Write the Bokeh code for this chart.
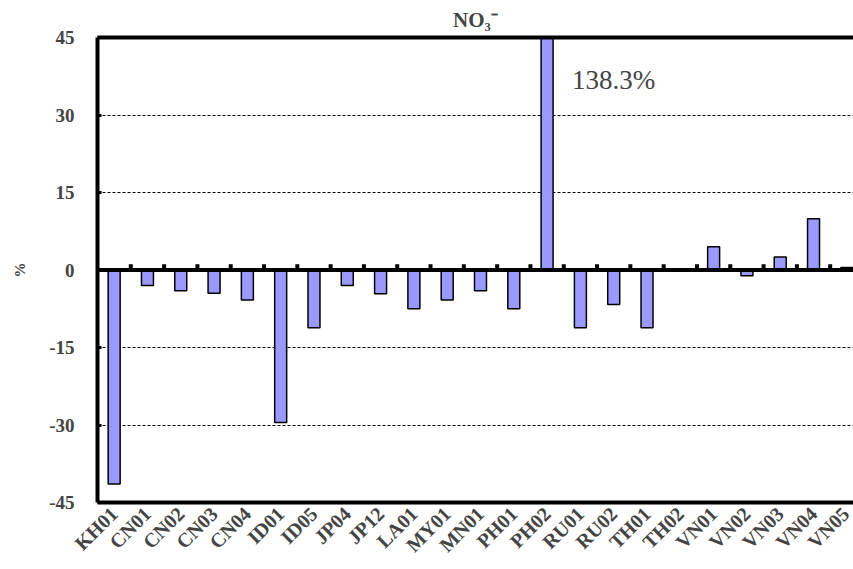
import math
from bokeh.plotting import figure
from bokeh.models import Range1d, FixedTicker, LinearAxis, Label, Span, ColumnDataSource
from bokeh.embed import file_html
from bokeh.resources import INLINE

# ---- data ----
sites = ["KH01", "CN01", "CN02", "CN03", "CN04", "ID01", "ID05", "JP04", "JP12",
         "LA01", "MY01", "MN01", "PH01", "PH02", "RU01", "RU02", "TH01", "TH02",
         "VN01", "VN02", "VN03", "VN04", "VN05"]
values = [-41.4, -3.0, -4.0, -4.5, -5.8, -29.5, -11.2, -3.0, -4.6,
          -7.5, -5.8, -4.0, -7.5, 138.3, -11.2, -6.7, -11.2, 0.0,
          4.5, -1.1, 2.5, 9.9, 0.5]
y_ticks = [-45, -30, -15, 0, 15, 30, 45]
title_text = "NO\u2083\u207b"
y_label = "%"
note_site = "PH02"
note_text = "138.3%"

FONT = "Liberation Serif"
Y_MIN, Y_MAX = y_ticks[0], y_ticks[-1]

idx = list(range(len(sites)))
src = ColumnDataSource(dict(x=idx, top=values, site=sites))

p = figure(width=853, height=569,
           x_range=Range1d(-0.5, len(sites) - 0.8),
           y_range=Range1d(Y_MIN, Y_MAX),
           output_backend="svg", toolbar_location=None,
           title=title_text,
           min_border_left=97, min_border_top=37,
           min_border_bottom=67, min_border_right=0)
p.outline_line_color = None
p.background_fill_color = "white"
p.border_fill_color = "white"

p.title.align = "center"
p.title.text_font = FONT
p.title.text_font_size = "21px"
p.title.text_font_style = "bold"
p.title.standoff = 11

# grid
p.xgrid.visible = False
p.ygrid.ticker = FixedTicker(ticks=y_ticks)
p.ygrid.grid_line_color = "black"
p.ygrid.grid_line_width = 1
p.ygrid.grid_line_dash = "3 2"

# bars
p.vbar(x="x", top="top", bottom=0, width=0.36, source=src,
       fill_color="#9999FF", line_color="black", line_width=1.5)

# zero line with tick marks between categories
p.add_layout(Span(location=0, dimension="width", line_color="black", line_width=4))
bounds = [i + 0.5 for i in idx[:-1]]
p.segment(x0=bounds, y0=[0] * len(bounds), x1=bounds, y1=[1.1] * len(bounds),
          line_color="black", line_width=4)

# y axis
yax = p.yaxis[0]
yax.ticker = FixedTicker(ticks=y_ticks)
yax.major_label_overrides = {t: str(t) for t in y_ticks}
yax.axis_line_width = 4
yax.major_tick_in = 4
yax.major_tick_out = 0
yax.major_tick_line_width = 3
yax.minor_tick_line_color = None
yax.major_label_text_font = FONT
yax.major_label_text_font_size = "19px"
yax.major_label_text_font_style = "bold"
yax.major_label_standoff = 23
yax.axis_label = y_label
yax.axis_label_text_font = FONT
yax.axis_label_text_font_size = "15px"
yax.axis_label_text_font_style = "bold"
yax.axis_label_standoff = 18

# x axis
xax = p.xaxis[0]
xax.ticker = FixedTicker(ticks=idx)
xax.major_label_overrides = {i: s for i, s in zip(idx, sites)}
xax.major_label_orientation = math.pi / 4
xax.axis_line_width = 4
xax.major_tick_in = 0
xax.major_tick_out = 0
xax.minor_tick_line_color = None
xax.major_label_text_font = FONT
xax.major_label_text_font_size = "20px"
xax.major_label_text_font_style = "bold"
xax.major_label_standoff = 8

# top border
top = LinearAxis(ticker=FixedTicker(ticks=[]), axis_line_width=4,
                 major_tick_in=0, major_tick_out=0, minor_tick_line_color=None,
                 major_label_text_font_size="0px", major_label_standoff=0,
                 axis_label_standoff=0)
p.add_layout(top, "above")

# annotation for clipped bar
p.add_layout(Label(x=sites.index(note_site) + 0.75, y=36.7, text=note_text,
                   text_font=FONT, text_font_size="27px",
                   text_baseline="middle", text_align="left"))

open("out.html", "w").write(file_html(p, INLINE))
